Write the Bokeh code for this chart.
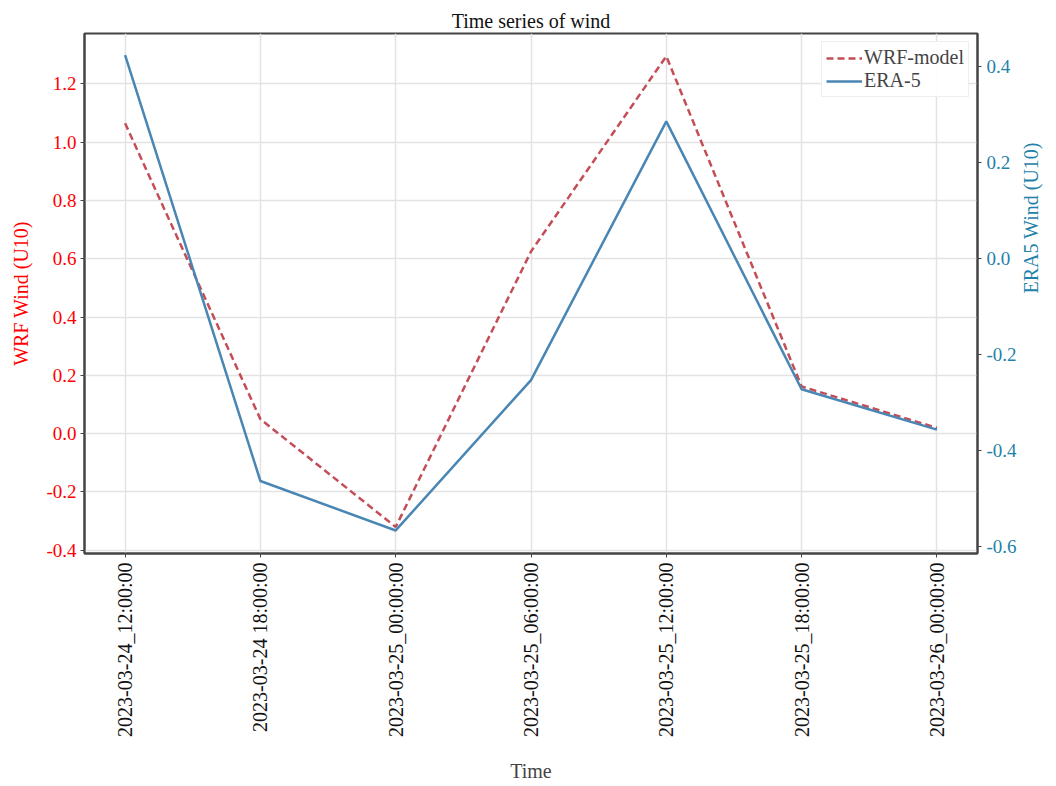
from bokeh.plotting import figure
from bokeh.models import Range1d, LinearAxis, FixedTicker, Legend, LegendItem, ColumnDataSource, PrintfTickFormatter
from bokeh.embed import file_html
from bokeh.resources import INLINE
import math

time_labels = ["2023-03-24_12:00:00", "2023-03-24 18:00:00", "2023-03-25_00:00:00",
               "2023-03-25_06:00:00", "2023-03-25_12:00:00", "2023-03-25_18:00:00",
               "2023-03-26_00:00:00"]
wrf_u10 = [1.065, 0.05, -0.32, 0.625, 1.295, 0.162, 0.02]
era5_u10 = [0.424, -0.463, -0.566, -0.253, 0.286, -0.272, -0.356]
left_ticks = [-0.4, -0.2, 0.0, 0.2, 0.4, 0.6, 0.8, 1.0, 1.2]
right_ticks = [-0.6, -0.4, -0.2, 0.0, 0.2, 0.4]

FONT = "Liberation Serif"
RED_LINE = "#c44e58"
BLUE_LINE = "#4a86b4"
TEAL = "#1f82a8"
AXIS_C = "#444444"

idx = list(range(len(time_labels)))
src = ColumnDataSource(dict(x=idx, wrf=wrf_u10, era=era5_u10))

p = figure(width=1056, height=784, output_backend="svg", toolbar_location=None,
           x_range=Range1d(-0.3, 6.3), y_range=Range1d(-0.411, 1.373),
           min_border_left=84, min_border_right=79, min_border_top=33, min_border_bottom=222)
p.extra_y_ranges = {"era": Range1d(-0.614, 0.469)}

p.title.text = "Time series of wind"
p.title.align = "center"
p.title.text_font = FONT
p.title.text_font_size = "20px"
p.title.text_font_style = "normal"
p.title.text_color = "#111111"
p.title.standoff = 3

p.outline_line_color = AXIS_C
p.outline_line_width = 2
p.background_fill_color = "white"
p.border_fill_color = "white"

# x axis
xa = p.xaxis[0]
xa.ticker = FixedTicker(ticks=idx)
xa.major_label_overrides = {i: lab for i, lab in enumerate(time_labels)}
xa.major_label_orientation = math.pi / 2
xa.axis_label = "Time"
xa.axis_label_text_font = FONT
xa.axis_label_text_font_style = "normal"
xa.axis_label_text_font_size = "20px"
xa.axis_label_standoff = 20
xa.major_label_text_font = FONT
xa.major_label_text_font_size = "20px"
xa.major_label_text_color = "#111111"
xa.major_label_standoff = 5
xa.axis_line_color = AXIS_C
xa.axis_line_width = 2
xa.major_tick_line_color = AXIS_C
xa.major_tick_in = 0
xa.major_tick_out = 4
xa.minor_tick_line_color = None

# left axis
ya = p.yaxis[0]
ya.ticker = FixedTicker(ticks=left_ticks)
ya.formatter = PrintfTickFormatter(format="%.1f")
ya.axis_label = "WRF Wind (U10)"
ya.axis_label_text_color = "red"
ya.axis_label_text_font = FONT
ya.axis_label_text_font_style = "normal"
ya.axis_label_text_font_size = "20px"
ya.axis_label_standoff = 11
ya.major_label_text_color = "red"
ya.major_label_text_font = FONT
ya.major_label_text_font_size = "19px"
ya.major_label_standoff = 4
ya.axis_line_color = AXIS_C
ya.axis_line_width = 2
ya.major_tick_line_color = AXIS_C
ya.major_tick_in = 0
ya.major_tick_out = 4
ya.minor_tick_line_color = None

# right axis
ra = LinearAxis(y_range_name="era", ticker=FixedTicker(ticks=right_ticks),
                formatter=PrintfTickFormatter(format="%.1f"))
ra.axis_label = "ERA5 Wind (U10)"
ra.axis_label_text_color = TEAL
ra.axis_label_text_font = FONT
ra.axis_label_text_font_style = "normal"
ra.axis_label_text_font_size = "20px"
ra.axis_label_standoff = 11
try:
    ra.axis_label_orientation = math.pi / 2
except Exception:
    pass
ra.major_label_text_color = TEAL
ra.major_label_text_font = FONT
ra.major_label_text_font_size = "19px"
ra.major_label_standoff = 5
ra.axis_line_color = AXIS_C
ra.axis_line_width = 2
ra.major_tick_line_color = AXIS_C
ra.major_tick_in = 0
ra.major_tick_out = 4
ra.minor_tick_line_color = None
p.add_layout(ra, "right")

# grid
p.xgrid.ticker = FixedTicker(ticks=idx)
p.ygrid.ticker = FixedTicker(ticks=left_ticks)
p.xgrid.grid_line_color = "#e3e3e3"
p.ygrid.grid_line_color = "#e3e3e3"
p.xgrid.grid_line_width = 1.5
p.ygrid.grid_line_width = 1.5

r_wrf = p.line("x", "wrf", source=src, line_color=RED_LINE, line_width=2.5, line_dash="7 4")
r_era = p.line("x", "era", source=src, line_color=BLUE_LINE, line_width=2.5, y_range_name="era")

legend = Legend(items=[LegendItem(label="WRF-model", renderers=[r_wrf]),
                       LegendItem(label="ERA-5", renderers=[r_era])],
                location="top_right")
legend.label_text_font = FONT
legend.label_text_font_size = "20px"
legend.label_height = 20
legend.glyph_width = 36
legend.glyph_height = 20
legend.spacing = 0
legend.padding = 4
legend.margin = 8
legend.label_standoff = 2
legend.border_line_color = "#dddddd"
legend.border_line_width = 1.5
legend.background_fill_alpha = 0.9
p.add_layout(legend, "center")

open("out.html", "w").write(file_html(p, INLINE))
